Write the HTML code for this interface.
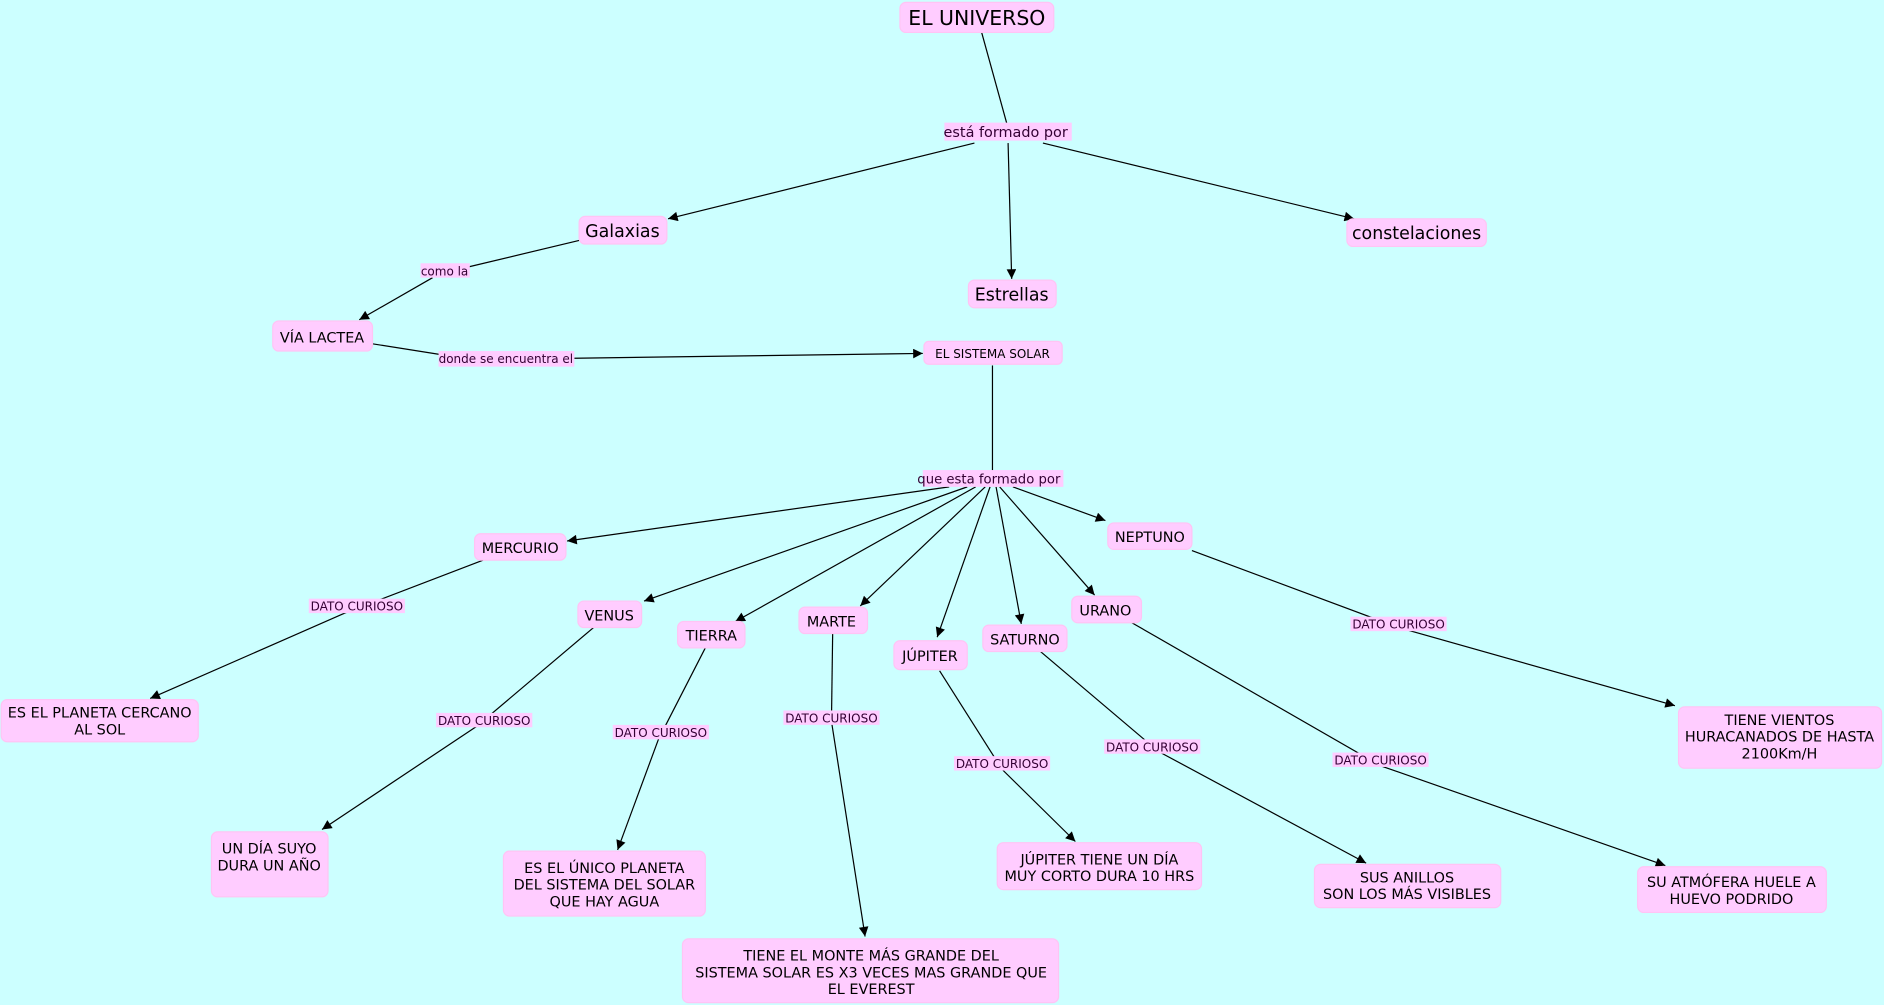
<!DOCTYPE html>
<html><head><meta charset="utf-8"><style>
html,body{margin:0;padding:0;background:#ccffff;}
svg{display:block;}
text{font-family:"DejaVu Sans","Liberation Sans",sans-serif;}
</style></head><body>
<svg width="1884" height="1005" viewBox="0 0 1568 836" preserveAspectRatio="none" xmlns="http://www.w3.org/2000/svg">
<defs><marker id="a" viewBox="0 0 10 10" refX="10" refY="5" markerWidth="9" markerHeight="8" orient="auto" markerUnits="userSpaceOnUse"><path d="M0,0L10,5L0,10z" fill="#000"/></marker></defs>
<rect width="1568" height="836" fill="#ccffff"/>
<g stroke="#000" stroke-width="1" fill="none">
<line x1="817" y1="27" x2="838" y2="103"/>
<line x1="811" y1="119" x2="556" y2="182" marker-end="url(#a)"/>
<line x1="839" y1="119" x2="842" y2="232" marker-end="url(#a)"/>
<line x1="868" y1="119" x2="1127" y2="182" marker-end="url(#a)"/>
<line x1="482" y1="200" x2="390" y2="222"/>
<line x1="360" y1="231" x2="299" y2="266" marker-end="url(#a)"/>
<line x1="310" y1="286" x2="367" y2="295"/>
<line x1="478" y1="298" x2="768" y2="294" marker-end="url(#a)"/>
<line x1="826" y1="304" x2="826" y2="392"/>
<line x1="790" y1="405" x2="472" y2="450" marker-end="url(#a)"/>
<line x1="805" y1="405" x2="536" y2="500" marker-end="url(#a)"/>
<line x1="812" y1="405" x2="612" y2="517" marker-end="url(#a)"/>
<line x1="820" y1="405" x2="716" y2="504" marker-end="url(#a)"/>
<line x1="824" y1="405" x2="780" y2="530" marker-end="url(#a)"/>
<line x1="829" y1="405" x2="850" y2="519" marker-end="url(#a)"/>
<line x1="832" y1="405" x2="911" y2="495" marker-end="url(#a)"/>
<line x1="843" y1="405" x2="920" y2="433" marker-end="url(#a)"/>
<line x1="402" y1="466" x2="287" y2="510"/>
<line x1="287" y1="510" x2="125" y2="581" marker-end="url(#a)"/>
<line x1="494" y1="522" x2="397" y2="604"/>
<line x1="397" y1="604" x2="268" y2="690" marker-end="url(#a)"/>
<line x1="587" y1="539" x2="548" y2="615"/>
<line x1="548" y1="615" x2="514" y2="707" marker-end="url(#a)"/>
<line x1="693" y1="527" x2="692" y2="600"/>
<line x1="692" y1="600" x2="720" y2="779" marker-end="url(#a)"/>
<line x1="782" y1="558" x2="834" y2="640"/>
<line x1="834" y1="640" x2="895" y2="700" marker-end="url(#a)"/>
<line x1="866" y1="542" x2="964" y2="625"/>
<line x1="964" y1="625" x2="1137" y2="718" marker-end="url(#a)"/>
<line x1="942" y1="518" x2="1149" y2="637"/>
<line x1="1149" y1="637" x2="1386" y2="720" marker-end="url(#a)"/>
<line x1="992" y1="458" x2="1164" y2="522"/>
<line x1="1164" y1="522" x2="1394" y2="587" marker-end="url(#a)"/>
</g>
<g fill="#ffccff" stroke="#ffc4f4" stroke-width="1">
<rect x="749" y="2" width="128" height="25" rx="5"/>
<rect x="482" y="180" width="73" height="23" rx="5"/>
<rect x="806" y="233" width="73" height="23" rx="5"/>
<rect x="1121" y="182" width="116" height="23" rx="5"/>
<rect x="227" y="267" width="83" height="25" rx="5"/>
<rect x="769" y="284" width="115" height="19" rx="4"/>
<rect x="395" y="444" width="76" height="22" rx="5"/>
<rect x="481" y="500" width="53" height="22" rx="5"/>
<rect x="564" y="517" width="56" height="22" rx="5"/>
<rect x="665" y="505" width="57" height="22" rx="5"/>
<rect x="744" y="533" width="61" height="24" rx="5"/>
<rect x="818" y="520" width="70" height="22" rx="5"/>
<rect x="892" y="496" width="58" height="22" rx="5"/>
<rect x="922" y="435" width="70" height="22" rx="5"/>
<rect x="1" y="582" width="164" height="35" rx="5"/>
<rect x="176" y="692" width="97" height="54" rx="5"/>
<rect x="419" y="708" width="168" height="54" rx="5"/>
<rect x="568" y="781" width="313" height="53" rx="5"/>
<rect x="830" y="701" width="170" height="39" rx="5"/>
<rect x="1094" y="719" width="155" height="36" rx="5"/>
<rect x="1363" y="721" width="157" height="38" rx="5"/>
<rect x="1397" y="588" width="169" height="51" rx="5"/>
</g>
<g fill="#ffccff">
<rect x="786" y="102" width="106" height="15"/>
<rect x="350" y="219" width="41" height="12"/>
<rect x="365" y="292" width="113" height="13"/>
<rect x="768" y="391" width="117" height="14"/>
<rect x="257" y="498" width="80" height="12"/>
<rect x="363" y="593" width="80" height="12"/>
<rect x="510" y="603" width="80" height="12"/>
<rect x="652" y="591" width="80" height="12"/>
<rect x="794" y="629" width="80" height="12"/>
<rect x="919" y="615" width="80" height="12"/>
<rect x="1109" y="626" width="80" height="12"/>
<rect x="1124" y="513" width="80" height="12"/>
</g>
<g fill="#000" text-anchor="middle">
<text x="813" y="21" font-size="17">EL UNIVERSO</text>
<text x="518" y="197" font-size="14.5">Galaxias</text>
<text x="842" y="250" font-size="14.5">Estrellas</text>
<text x="1179" y="199" font-size="14.5">constelaciones</text>
<text x="268" y="285" font-size="12">VÍA LACTEA</text>
<text x="826" y="298" font-size="10">EL SISTEMA SOLAR</text>
<g font-size="12">
<text x="433" y="460">MERCURIO</text>
<text x="507" y="516">VENUS</text>
<text x="592" y="533">TIERRA</text>
<text x="692" y="521">MARTE</text>
<text x="774" y="550">JÚPITER</text>
<text x="853" y="536">SATURNO</text>
<text x="920" y="512">URANO</text>
<text x="957" y="451">NEPTUNO</text>
<text x="83" y="597">ES EL PLANETA CERCANO</text><text x="83" y="611">AL SOL</text>
<text x="224" y="710">UN DÍA SUYO</text><text x="224" y="724">DURA UN AÑO</text>
<text x="503" y="726">ES EL ÚNICO PLANETA</text><text x="503" y="740">DEL SISTEMA DEL SOLAR</text><text x="503" y="754">QUE HAY AGUA</text>
<text x="725" y="799">TIENE EL MONTE MÁS GRANDE DEL</text><text x="725" y="813">SISTEMA SOLAR  ES X3 VECES MAS GRANDE QUE</text><text x="725" y="827">EL EVEREST</text>
<text x="915" y="719">JÚPITER TIENE UN DÍA</text><text x="915" y="733">MUY CORTO DURA 10 HRS</text>
<text x="1171" y="734">SUS ANILLOS</text><text x="1171" y="748">SON LOS MÁS VISIBLES</text>
<text x="1441" y="738">SU ATMÓFERA HUELE A</text><text x="1441" y="752">HUEVO PODRIDO</text>
<text x="1481" y="603">TIENE VIENTOS</text><text x="1481" y="617">HURACANADOS DE HASTA</text><text x="1481" y="631">2100Km/H</text>
</g>
</g>
<g fill="#330033" text-anchor="middle" font-size="11">
<text x="837" y="114" font-size="12">está formado por</text>
<text x="370" y="229" font-size="10">como la</text>
<text x="421" y="302" font-size="10">donde se encuentra el</text>
<text x="823" y="402">que esta formado por</text>
<g font-size="10">
<text x="297" y="508">DATO CURIOSO</text>
<text x="403" y="603">DATO CURIOSO</text>
<text x="550" y="613">DATO CURIOSO</text>
<text x="692" y="601">DATO CURIOSO</text>
<text x="834" y="639">DATO CURIOSO</text>
<text x="959" y="625">DATO CURIOSO</text>
<text x="1149" y="636">DATO CURIOSO</text>
<text x="1164" y="523">DATO CURIOSO</text>
</g>
</g>
</svg>
</body></html>
